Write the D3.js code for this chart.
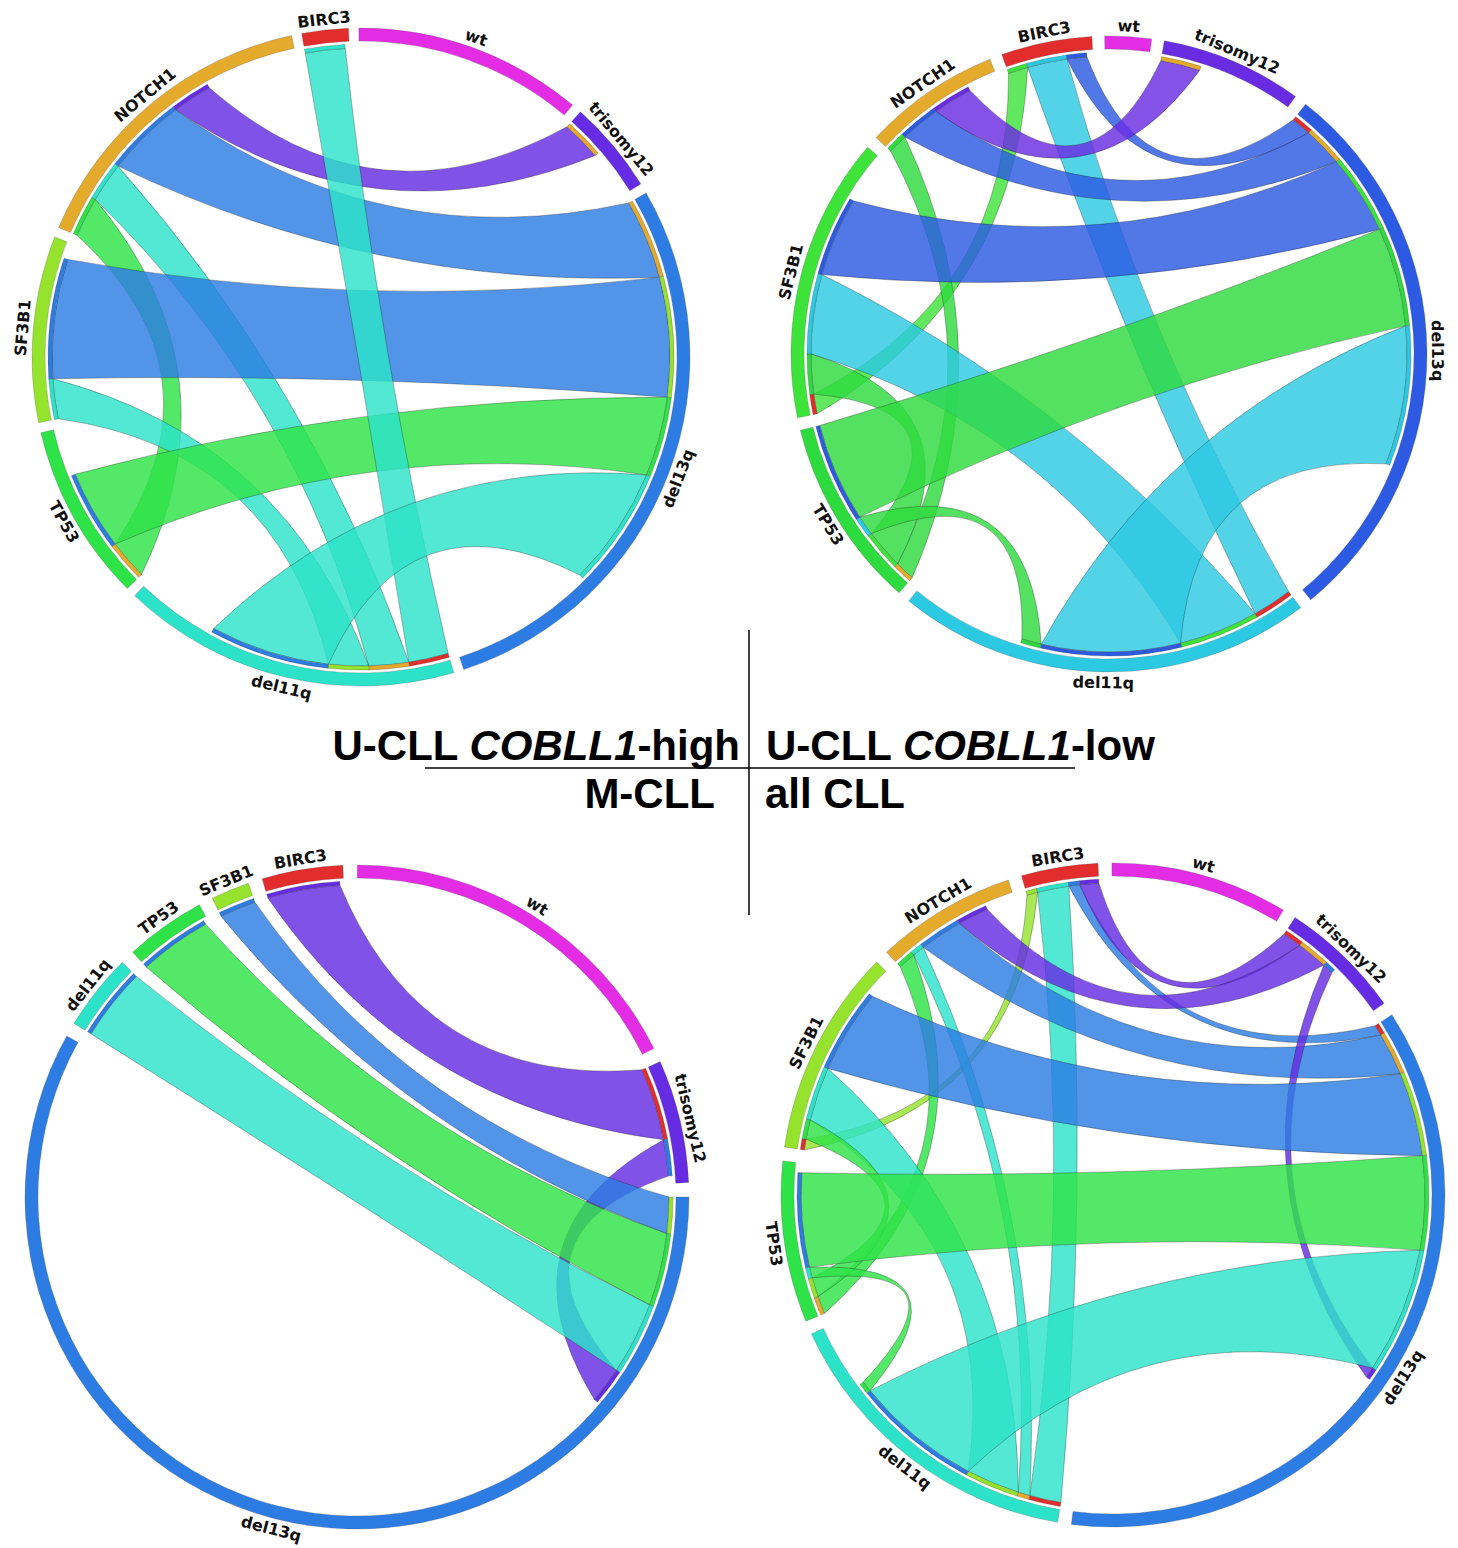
<!DOCTYPE html>
<html>
<head>
<meta charset="utf-8">
<script src="https://cdn.jsdelivr.net/npm/d3@7"></script>
<style>
  body { margin: 0; background: #fff; }
</style>
</head>
<body>
<svg id="fig" width="1458" height="1548"></svg>
<script>
// sectors clockwise from the top of each circle
const sectorsU = ["BIRC3", "wt", "trisomy12", "del13q", "del11q", "TP53", "SF3B1", "NOTCH1"];
const sectorsM = ["BIRC3", "wt", "trisomy12", "del13q", "del11q", "TP53", "SF3B1"];
// order used to stack the link ends inside one sector
const linkOrder = ["BIRC3", "NOTCH1", "SF3B1", "TP53", "del11q", "del13q", "trisomy12", "wt"];

// links are [source, target, value]; a link takes its source's colour
const linksHigh = [
    ["trisomy12", "NOTCH1", 1], ["del13q", "NOTCH1", 2], ["del11q", "NOTCH1", 1],
    ["TP53", "NOTCH1", 1], ["del13q", "SF3B1", 3], ["del11q", "SF3B1", 1],
    ["TP53", "del13q", 2], ["del11q", "BIRC3", 1], ["del11q", "del13q", 3]
];
// part of each sector with no link, same order as the sector list
const soloHigh = [0.1, 5.4, 1.2, 3.6, 2, 1.2, 0.4, 2.3];

const linksLow = [
    ["SF3B1", "BIRC3", 1], ["del11q", "BIRC3", 2], ["del13q", "BIRC3", 1],
    ["trisomy12", "NOTCH1", 2], ["del13q", "NOTCH1", 2], ["TP53", "NOTCH1", 1],
    ["del13q", "SF3B1", 4], ["del11q", "SF3B1", 4], ["TP53", "SF3B1", 2],
    ["TP53", "del13q", 5], ["TP53", "del11q", 1], ["del11q", "del13q", 7]
];
const soloLow = [0.3, 2.2, 4.7, 7.5, 5.7, 0, 2.5, 1.5];

const linksM = [
    ["trisomy12", "BIRC3", 2], ["trisomy12", "del13q", 1], ["del13q", "SF3B1", 1],
    ["TP53", "del13q", 2], ["del11q", "del13q", 2]
];
const soloM = [0.1, 9.4, 0.2, 25, 0, 0.1, 0];

const linksAll = [
    ["SF3B1", "BIRC3", 2.0], ["del11q", "BIRC3", 5.8], ["del13q", "BIRC3", 2.0],
    ["trisomy12", "BIRC3", 3.5], ["TP53", "NOTCH1", 3.3], ["del11q", "NOTCH1", 2.2],
    ["del13q", "NOTCH1", 7.9], ["trisomy12", "NOTCH1", 5.7], ["trisomy12", "del13q", 2.0],
    ["del13q", "SF3B1", 15.5], ["del11q", "SF3B1", 9.9], ["TP53", "SF3B1", 3.6],
    ["TP53", "del11q", 2.0], ["TP53", "del13q", 17.3], ["del11q", "del13q", 23.3]
];
const soloAll = [0, 30.8, 10.1, 61, 12, 1.8, 5, 5.3];

const colorsA = {
    BIRC3: "#e32c2c", wt: "#e32ce3", trisomy12: "#652ce3", del13q: "#2c7ce3",
    del11q: "#2ce3c9", TP53: "#2ee347", SF3B1: "#95e32c", NOTCH1: "#e3aa2c"
};
const colorsB = {
    BIRC3: "#e32c2c", wt: "#e32ce3", trisomy12: "#6a2ce3", del13q: "#2c5ae3",
    del11q: "#2cc9e3", TP53: "#2edb3e", SF3B1: "#3ee33a", NOTCH1: "#e3aa2c"
};

const panels = [
    {sectors: sectorsU, links: linksHigh, solo: soloHigh, colors: colorsA, cx: 361, cy: 357, r: 329, start: -10.4, gap: 1.8},
    {sectors: sectorsU, links: linksLow, solo: soloLow, colors: colorsB, cx: 1109, cy: 354, r: 318, start: -19.7, gap: 2.3},
    {sectors: sectorsM, links: linksM, solo: soloM, colors: colorsA, cx: 357, cy: 1197, r: 332, start: -16.6, gap: 2.5},
    {sectors: sectorsU, links: linksAll, solo: soloAll, colors: colorsA, cx: 1113, cy: 1195, r: 332, start: -16, gap: 2.4}
];

const svg = d3.select("#fig");
const rad = Math.PI / 180;

function ribbon(a, b, r) {
    const pt = t => [r * Math.sin(t), -r * Math.cos(t)];
    // control point halfway between the centre and the chord's midpoint
    const ctrl = (p, q) => [(p[0] + q[0]) / 4, (p[1] + q[1]) / 4];
    const a0 = pt(a.start), a1 = pt(a.end), b0 = pt(b.start), b1 = pt(b.end);
    const path = d3.path();
    path.moveTo(a0[0], a0[1]);
    path.arc(0, 0, r, a.start - Math.PI / 2, a.end - Math.PI / 2);
    let c = ctrl(a1, b0);
    path.quadraticCurveTo(c[0], c[1], b0[0], b0[1]);
    path.arc(0, 0, r, b.start - Math.PI / 2, b.end - Math.PI / 2);
    c = ctrl(b1, a0);
    path.quadraticCurveTo(c[0], c[1], a0[0], a0[1]);
    path.closePath();
    return path.toString();
}

function drawChord(p) {
    const g = svg.append("g").attr("transform", `translate(${p.cx},${p.cy})`);
    const rOuter = p.r, rTrack = p.r - 13, rProp = rTrack - 3, rLink = rProp - 4;

    const size = new Map(p.sectors.map((s, i) => [s, p.solo[i]]));
    p.links.forEach(([s, t, v]) => {
        size.set(s, size.get(s) + v);
        size.set(t, size.get(t) + v);
    });
    const gap = p.gap * rad;
    const k = (2 * Math.PI - gap * p.sectors.length) / d3.sum(p.sectors, s => size.get(s));

    let a = p.start * rad;
    const groups = p.sectors.map(s => {
        const d = {name: s, start: a, end: a + size.get(s) * k};
        a = d.end + gap;
        return d;
    });

    // outgoing ends first, then incoming ones, the rest of the sector stays empty
    const ends = new Map();
    const idx = p.links.map((l, i) => ({l, i}));
    groups.forEach(gr => {
        let pos = gr.start;
        const out = idx.filter(o => o.l[0] === gr.name)
            .sort((x, y) => linkOrder.indexOf(x.l[1]) - linkOrder.indexOf(y.l[1]));
        const inc = idx.filter(o => o.l[1] === gr.name)
            .sort((x, y) => linkOrder.indexOf(x.l[0]) - linkOrder.indexOf(y.l[0]));
        out.forEach(o => {
            ends.set(o.i + "s", {start: pos, end: pos + o.l[2] * k, partner: o.l[1]});
            pos += o.l[2] * k;
        });
        inc.forEach(o => {
            ends.set(o.i + "t", {start: pos, end: pos + o.l[2] * k, partner: o.l[0]});
            pos += o.l[2] * k;
        });
    });

    g.selectAll("path.link")
        .data(idx)
        .join("path")
        .attr("class", "link")
        .attr("d", o => ribbon(ends.get(o.i + "s"), ends.get(o.i + "t"), rLink))
        .attr("fill", o => p.colors[o.l[0]])
        .attr("fill-opacity", 0.82)
        .attr("stroke", "#222")
        .attr("stroke-opacity", 0.55)
        .attr("stroke-width", 0.6);

    const propArc = d3.arc().innerRadius(rLink).outerRadius(rProp);
    g.selectAll("path.prop")
        .data(Array.from(ends.values()))
        .join("path")
        .attr("class", "prop")
        .attr("d", d => propArc({startAngle: d.start, endAngle: d.end}))
        .attr("fill", d => p.colors[d.partner])
        .attr("stroke", "#333")
        .attr("stroke-opacity", 0.5)
        .attr("stroke-width", 0.5);

    const trackArc = d3.arc().innerRadius(rTrack).outerRadius(rOuter);
    g.selectAll("path.sector")
        .data(groups)
        .join("path")
        .attr("class", "sector")
        .attr("d", d => trackArc({startAngle: d.start, endAngle: d.end}))
        .attr("fill", d => p.colors[d.name])
        .attr("stroke", "#555")
        .attr("stroke-opacity", 0.45)
        .attr("stroke-width", 0.6);

    g.selectAll("text.label")
        .data(groups)
        .join("text")
        .attr("class", "label")
        .each(function (d) {
            const mid = (d.start + d.end) / 2;
            let deg = ((mid / rad) % 360 + 360) % 360;
            const bottom = deg > 90 && deg < 270;
            const rr = rOuter + (bottom ? 4 : 5);
            d3.select(this)
                .attr("transform", `translate(${rr * Math.sin(mid)},${-rr * Math.cos(mid)}) rotate(${bottom ? deg - 180 : deg})`)
                .attr("dy", bottom ? "0.76em" : 0);
        })
        .attr("text-anchor", "middle")
        .attr("font-family", "DejaVu Sans, sans-serif")
        .attr("font-weight", "bold")
        .attr("font-size", 16)
        .attr("fill", "#111")
        .text(d => d.name);
}

panels.forEach(drawChord);

// quadrant titles and the cross between them
const titles = svg.append("g")
    .attr("font-family", "Liberation Sans, Arial, sans-serif")
    .attr("font-weight", "bold")
    .attr("font-size", 42)
    .attr("fill", "#000");

function title(x, y, anchor, parts) {
    const t = titles.append("text").attr("x", x).attr("y", y).attr("text-anchor", anchor);
    parts.forEach(([s, it]) => t.append("tspan").attr("font-style", it ? "italic" : "normal").text(s));
}
title(740, 760, "end", [["U-CLL ", false], ["COBLL1", true], ["-high", false]]);
title(766, 760, "start", [["U-CLL ", false], ["COBLL1", true], ["-low", false]]);
title(715, 808, "end", [["M-CLL", false]]);
title(765, 808, "start", [["all CLL", false]]);

svg.append("line").attr("x1", 749).attr("x2", 749).attr("y1", 630).attr("y2", 915)
    .attr("stroke", "#000").attr("stroke-width", 1.5);
svg.append("line").attr("x1", 425).attr("x2", 1075).attr("y1", 768).attr("y2", 768)
    .attr("stroke", "#000").attr("stroke-width", 1.5);
</script>
</body>
</html>
